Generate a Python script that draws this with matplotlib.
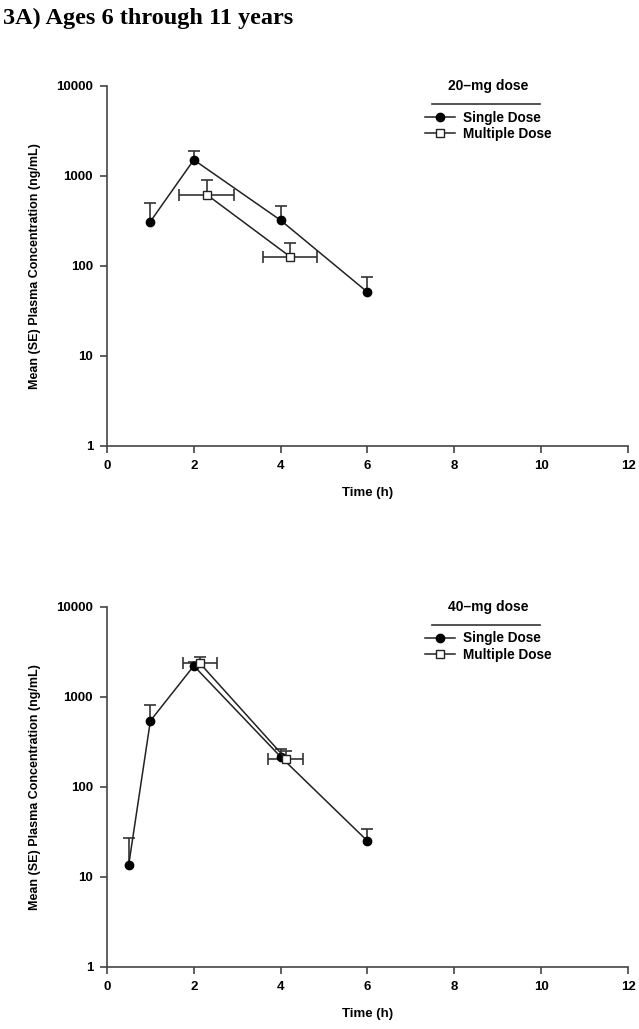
import numpy as np
import matplotlib.pyplot as plt

# ============================================================
# Data
# ============================================================

# 20-mg dose
t_single_20 = [1, 2, 4, 6]
c_single_20 = [310, 1500, 320, 51]
se_single_20 = [190, 400, 140, 24]

t_multi_20 = [2.3, 4.22]
c_multi_20 = [615, 126]
se_multi_20 = [285, 54]
xse_multi_20 = [0.63, 0.62]

# 40-mg dose
t_single_40 = [0.5, 1, 2, 4, 6]
c_single_40 = [13.5, 540, 2200, 215, 25]
se_single_40 = [13.5, 270, 250, 45, 9]

t_multi_40 = [2.14, 4.12]
c_multi_40 = [2350, 205]
se_multi_40 = [380, 45]
xse_multi_40 = [0.39, 0.40]

dose_labels = ["20\u2013mg dose", "40\u2013mg dose"]
x_ticks = [0, 2, 4, 6, 8, 10, 12]
y_ticks = [1, 10, 100, 1000, 10000]

plt.rcParams['font.family'] = ['Liberation Sans', 'DejaVu Sans']
plt.rcParams['font.weight'] = 'bold'

ecol = '#333333'


def upper_bars(ax, t, c, se):
    # only the upper half of the SE bar, with a cap on top
    top = np.array(c) + np.array(se)
    ax.vlines(t, c, top, color=ecol, lw=1.2, zorder=2)
    ax.plot(t, top, '_', color=ecol, markersize=9, markeredgewidth=1.2,
            linestyle='none', zorder=2)


fig = plt.figure(figsize=(6.39, 10.29), dpi=100)
fig.text(0.005, 0.982, "3A) Ages 6 through 11 years", family='Liberation Serif',
         fontsize=17.5, fontweight='bold', va='center', ha='left')

panels = [
    (0.5666, (t_single_20, c_single_20, se_single_20),
     (t_multi_20, c_multi_20, se_multi_20, xse_multi_20), dose_labels[0]),
    (0.0603, (t_single_40, c_single_40, se_single_40),
     (t_multi_40, c_multi_40, se_multi_40, xse_multi_40), dose_labels[1]),
]

for bottom, single, multi, header in panels:
    ax = fig.add_axes([0.1674, bottom, 0.8154, 0.3502])
    ts, cs, ses = single
    tm, cm, sem, xsem = multi

    upper_bars(ax, ts, cs, ses)
    upper_bars(ax, tm, cm, sem)
    ax.errorbar(tm, cm, xerr=xsem, fmt='none', ecolor=ecol, elinewidth=1.2,
                capsize=4, capthick=1.2, zorder=2)
    l1, = ax.plot(ts, cs, '-o', color='#222222', lw=1.1, markersize=6,
                  markerfacecolor='black', markeredgecolor='black', zorder=3,
                  label="Single Dose")
    l2, = ax.plot(tm, cm, '-s', color='#222222', lw=1.1, markersize=6,
                  markerfacecolor='white', markeredgecolor='#222222', zorder=4,
                  label="Multiple Dose")

    ax.set_yscale('log')
    ax.set_ylim(1, 10000)
    ax.set_xlim(0, 12)
    ax.set_xticks(x_ticks)
    ax.set_xticklabels([str(v) for v in x_ticks])
    ax.set_yticks(y_ticks)
    ax.set_yticklabels([str(v) for v in y_ticks])
    ax.yaxis.set_minor_locator(plt.NullLocator())
    ax.spines['top'].set_visible(False)
    ax.spines['right'].set_visible(False)
    for s in ['left', 'bottom']:
        ax.spines[s].set_color('#444444')
        ax.spines[s].set_linewidth(1.2)
    ax.tick_params(direction='out', length=5, width=1.2, color='#444444',
                   labelsize=9.5, pad=5)
    ax.set_xlabel("Time (h)", fontsize=9.5, fontweight='bold', labelpad=11)
    ax.set_ylabel("Mean (SE) Plasma Concentration (ng/mL)", fontsize=9,
                  fontweight='bold', labelpad=11)

    # legend header with rule underneath
    ax.text(0.731, 1.0, header, transform=ax.transAxes, ha='center', va='center',
            fontsize=10, fontweight='bold')
    ax.plot([0.624, 0.831], [0.95, 0.95], transform=ax.transAxes, color='#333333',
            lw=1.2, clip_on=False)
    ax.legend(handles=[l1, l2], loc='upper left', bbox_to_anchor=(0.6, 0.946),
              frameon=False, fontsize=9.8, handlelength=2.2, handletextpad=0.6,
              labelspacing=0.15, borderaxespad=0)

fig.savefig("out.png", dpi=100)
